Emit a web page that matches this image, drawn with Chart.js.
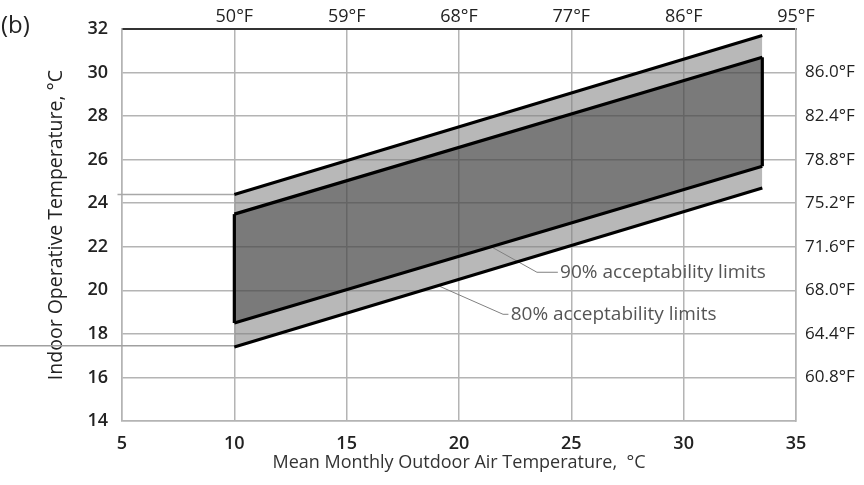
<!DOCTYPE html>
<html>
<head>
<meta charset="utf-8">
<script src="https://cdn.jsdelivr.net/npm/chart.js@4/dist/chart.umd.min.js"></script>
<style>
  html, body { margin: 0; padding: 0; background: #fff; }
  #wrap { width: 864px; height: 485px; position: relative; }
</style>
</head>
<body>
<div id="wrap"><canvas id="chart"></canvas></div>
<script>
// mean monthly outdoor temperature at the two ends of the band (°C)
const outdoorEnds = [10, 33.5];
// acceptability limits (indoor operative temperature, °C) at those ends
const upper80 = [24.4, 31.7];
const upper90 = [23.5, 30.7];
const lower90 = [18.5, 25.7];
const lower80 = [17.4, 24.7];

// secondary axes
const topTickValues = [10, 15, 20, 25, 30, 35];
const topTickLabels = ['50°F', '59°F', '68°F', '77°F', '86°F', '95°F'];
const rightTickValues = [16, 18, 20, 22, 24, 26, 28, 30];
const rightTickLabels = ['60.8°F', '64.4°F', '68.0°F', '71.6°F', '75.2°F', '78.8°F', '82.4°F', '86.0°F'];

// short reference stubs on the left side
const stubHighX = [4.8, 10];
const stubHighY = [24.4, 24.4];
const stubLowX = [-0.45, 10];
const stubLowY = [17.45, 17.45];

// callouts
const callout90X = [21.47, 23.47, 24.4];
const callout90Y = [21.98, 20.83, 20.83];
const callout80X = [19.15, 21.96, 22.2];
const callout80Y = [20.18, 18.9, 18.9];
const calloutTexts = ['90% acceptability limits', '80% acceptability limits'];
const calloutTextX = [24.5, 22.3];
const calloutTextY = [20.83, 18.9];

const LIGHT = 'rgba(128,128,128,0.56)';
const DARK = 'rgba(70,70,70,0.72)';
const GRID = '#b4b4b4';

function pts(xs, ys) {
  return xs.map((x, i) => ({ x: x, y: ys[i] }));
}

function bandLine(data, fill, bg) {
  return {
    data: data,
    borderColor: '#000',
    borderWidth: 3.2,
    pointRadius: 0,
    fill: fill,
    backgroundColor: bg,
    xAxisID: 'x',
    yAxisID: 'y'
  };
}

function thinLine(data, color, width, clip) {
  return {
    data: data,
    borderColor: color,
    borderWidth: width,
    pointRadius: 0,
    fill: false,
    clip: clip,
    xAxisID: 'x',
    yAxisID: 'y'
  };
}

const calloutPlugin = {
  id: 'callouts',
  afterDraw(chart) {
    const ctx = chart.ctx;
    const sx = chart.scales.x, sy = chart.scales.y;
    ctx.save();
    ctx.font = '19px "Open Sans"';
    ctx.fillStyle = '#555';
    ctx.textAlign = 'left';
    ctx.textBaseline = 'middle';
    calloutTexts.forEach((t, i) => {
      ctx.fillText(t, sx.getPixelForValue(calloutTextX[i]), sy.getPixelForValue(calloutTextY[i]));
    });
    ctx.font = '24px "Open Sans"';
    ctx.fillStyle = '#222';
    ctx.fillText('(b)', 1, 26);
    ctx.restore();
  }
};

new Chart(document.getElementById('chart'), {
  type: 'line',
  data: {
    datasets: [
      bandLine(pts(outdoorEnds, upper80), 1, LIGHT),
      bandLine(pts(outdoorEnds, upper90), 2, DARK),
      bandLine(pts(outdoorEnds, lower90), 3, LIGHT),
      bandLine(pts(outdoorEnds, lower80), false, LIGHT),
      bandLine([{ x: outdoorEnds[0], y: lower90[0] }, { x: outdoorEnds[0], y: upper90[0] }], false, DARK),
      bandLine([{ x: outdoorEnds[1], y: lower90[1] }, { x: outdoorEnds[1], y: upper90[1] }], false, DARK),
      thinLine(pts(stubHighX, stubHighY), '#a8a8a8', 1.5, false),
      thinLine(pts(stubLowX, stubLowY), '#a0a0a0', 1.5, false),
      thinLine(pts(callout90X, callout90Y), '#808080', 1, true),
      thinLine(pts(callout80X, callout80Y), '#808080', 1, true)
    ]
  },
  options: {
    responsive: true,
    maintainAspectRatio: false,
    animation: false,
    layout: { padding: 0 },
    plugins: {
      legend: { display: false },
      tooltip: { enabled: false },
      filler: { drawTime: 'beforeDatasetsDraw' }
    },
    scales: {
      x: {
        type: 'linear',
        position: 'bottom',
        min: 5, max: 35,
        afterFit: s => { s.height = 64; },
        grid: { color: GRID, lineWidth: 1.5, drawTicks: false },
        border: { color: GRID, width: 1.5 },
        ticks: { stepSize: 5, padding: 12, color: '#222', font: { family: 'Open Sans', size: 18, weight: '600' } },
        title: {
          display: true,
          text: 'Mean Monthly Outdoor Air Temperature,  °C',
          color: '#333',
          font: { family: 'Open Sans', size: 18 },
          padding: { top: 0, bottom: 11 }
        }
      },
      x2: {
        type: 'linear',
        position: 'top',
        min: 5, max: 35,
        afterFit: s => { s.height = 29; },
        grid: { display: false, drawTicks: false },
        border: { color: '#333', width: 2 },
        afterBuildTicks: s => { s.ticks = topTickValues.map(v => ({ value: v })); },
        ticks: {
          padding: 1,
          color: '#222',
          font: { family: 'Open Sans', size: 18 },
          callback: v => topTickLabels[topTickValues.indexOf(v)]
        }
      },
      y: {
        type: 'linear',
        position: 'left',
        min: 14, max: 32,
        afterFit: s => { s.width = 122; },
        grid: { color: GRID, lineWidth: 1.5, drawTicks: false },
        border: { color: GRID, width: 1.5 },
        ticks: { stepSize: 2, padding: 14, color: '#222', font: { family: 'Open Sans', size: 18, weight: '600' } },
        title: {
          display: true,
          text: 'Indoor Operative Temperature, °C',
          color: '#222',
          font: { family: 'Open Sans', size: 19.5, weight: '500' },
          padding: { top: 45, bottom: 0 }
        }
      },
      y2: {
        type: 'linear',
        position: 'right',
        min: 14, max: 32,
        afterFit: s => { s.width = 68; },
        grid: { display: false, drawTicks: false },
        border: { color: GRID, width: 1.5 },
        afterBuildTicks: s => { s.ticks = rightTickValues.map(v => ({ value: v })); },
        ticks: {
          padding: 9,
          color: '#222',
          font: { family: 'Open Sans', size: 17 },
          callback: v => rightTickLabels[rightTickValues.indexOf(v)]
        }
      }
    }
  },
  plugins: [calloutPlugin]
});
</script>
</body>
</html>
